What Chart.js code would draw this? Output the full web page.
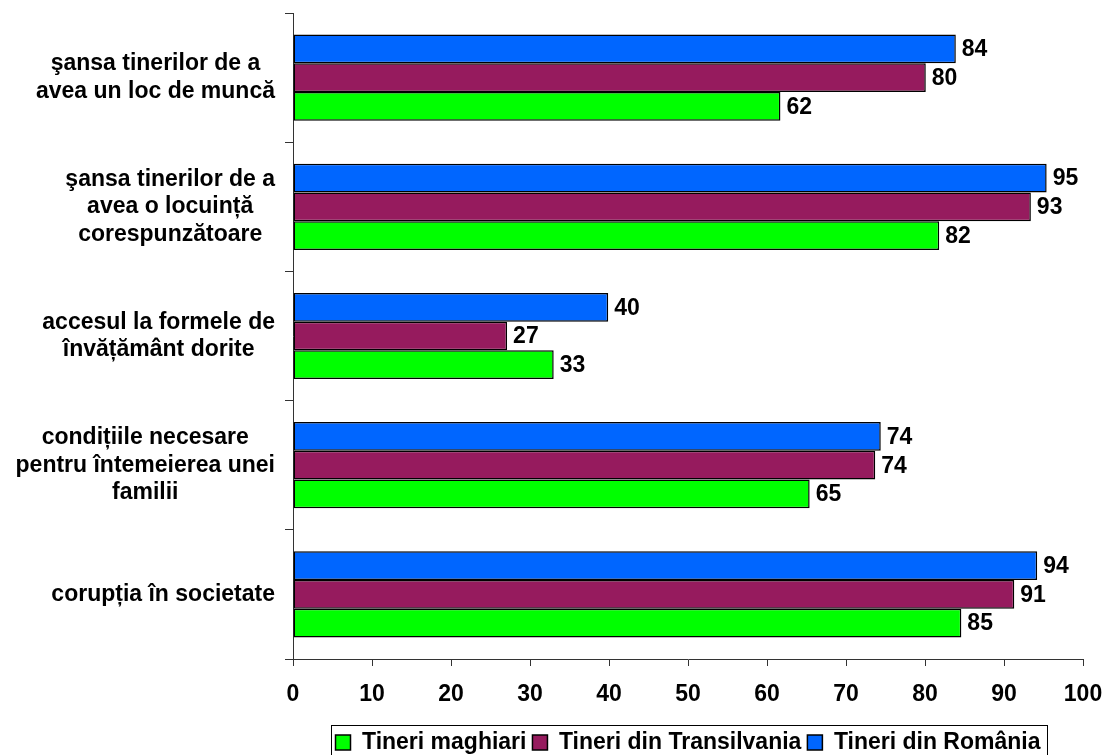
<!DOCTYPE html>
<html>
<head>
<meta charset="utf-8">
<script src="https://cdn.jsdelivr.net/npm/chart.js@4.4.1/dist/chart.umd.min.js"></script>
<style>
html,body{margin:0;padding:0;background:#fff;}
#wrap{width:1105px;height:755px;position:relative;}
</style>
</head>
<body>
<div id="wrap"><canvas id="c" width="1105" height="755"></canvas></div>
<script>
// ---- data ----
const categories = [
  ["şansa tinerilor de a", "avea un loc de muncă"],
  ["şansa tinerilor de a", "avea o locuință", "corespunzătoare"],
  ["accesul la formele de", "învățământ dorite"],
  ["condițiile necesare", "pentru întemeierea unei", "familii"],
  ["corupția în societate"]
];
const seriesNames = ["Tineri din România", "Tineri din Transilvania", "Tineri maghiari"];
const valuesRomania      = [83.9, 95.4, 39.9, 74.4, 94.2];
const valuesTransilvania = [80.1, 93.4, 27.1, 73.7, 91.3];
const valuesMaghiari     = [61.7, 81.8, 33.0, 65.4, 84.6];
const xTickValues = [0, 10, 20, 30, 40, 50, 60, 70, 80, 90, 100];

// ---- styles ----
const FONT = '"Liberation Sans", Arial, Helvetica, sans-serif';
const colors = ["#0066FF", "#961B5E", "#00FF00"];
Chart.defaults.font.family = FONT;
Chart.defaults.font.weight = 'bold';
Chart.defaults.color = '#000';

const valueLabels = {
  id: 'valueLabels',
  afterDatasetsDraw(chart) {
    const ctx = chart.ctx;
    ctx.save();
    ctx.font = 'bold 23px ' + FONT;
    ctx.fillStyle = '#000';
    ctx.textAlign = 'left';
    ctx.textBaseline = 'middle';
    chart.data.datasets.forEach((ds, i) => {
      chart.getDatasetMeta(i).data.forEach((el, j) => {
        ctx.fillText(String(Math.round(ds.data[j])), el.x + 6, el.y + 1);
      });
    });
    ctx.restore();
  }
};

// center each multi-line category label within its own block, block right-aligned
const labelAlign = {
  id: 'labelAlign',
  beforeDraw(chart) {
    const s = chart.scales.y;
    const items = s.getLabelItems(chart.chartArea);
    const ctx = chart.ctx;
    const xRight = s.right - s.options.grid.tickLength - s.options.ticks.padding;
    items.forEach(it => {
      ctx.save();
      ctx.font = it.font.string;
      const lines = Array.isArray(it.label) ? it.label : [it.label];
      const w = Math.max(...lines.map(l => ctx.measureText(l).width));
      ctx.restore();
      it.options.textAlign = 'center';
      it.options.translation = [xRight - w / 2, it.options.translation[1]];
    });
  }
};

const legendBorder = {
  id: 'legendBorder',
  afterDraw(chart) {
    const lg = chart.legend;
    if (!lg || !lg.legendHitBoxes || !lg.legendHitBoxes.length) return;
    const hb = lg.legendHitBoxes;
    const l = Math.min(...hb.map(h => h.left)) - 5;
    const r = Math.max(...hb.map(h => h.left + h.width)) + 6;
    const t = lg.top + 0.5;
    const ctx = chart.ctx;
    ctx.save();
    ctx.strokeStyle = '#000';
    ctx.lineWidth = 1;
    ctx.strokeRect(Math.round(l) + 0.5, t, Math.round(r - l), 60);
    ctx.restore();
  }
};

new Chart(document.getElementById('c'), {
  type: 'bar',
  data: {
    labels: categories,
    datasets: [
      { label: seriesNames[0], data: valuesRomania, backgroundColor: colors[0] },
      { label: seriesNames[1], data: valuesTransilvania, backgroundColor: colors[1] },
      { label: seriesNames[2], data: valuesMaghiari, backgroundColor: colors[2] }
    ].map(d => Object.assign(d, {
      borderColor: '#000', borderWidth: 1.5, borderSkipped: false,
      categoryPercentage: 0.667, barPercentage: 1.0
    }))
  },
  options: {
    indexAxis: 'y',
    responsive: false,
    animation: false,
    devicePixelRatio: 1,
    layout: { padding: { top: 13, right: 22, left: 0, bottom: 0 } },
    scales: {
      x: {
        min: 0, max: 100,
        afterBuildTicks(scale) { scale.ticks = xTickValues.map(v => ({ value: v })); },
        afterFit(scale) { scale.height = 66; scale.paddingLeft = 0; scale.paddingRight = 0; },
        grid: { drawOnChartArea: false, drawTicks: true, tickLength: 7, color: '#333', lineWidth: 1 },
        border: { display: true, color: '#333', width: 1 },
        ticks: { padding: 15, font: { size: 23, weight: 'bold' }, color: '#000', maxRotation: 0 }
      },
      y: {
        afterFit(scale) { scale.width = 293; scale.paddingTop = 0; scale.paddingBottom = 0; },
        grid: { drawOnChartArea: false, drawTicks: true, tickLength: 8, color: '#333', lineWidth: 1, offset: true },
        border: { display: true, color: '#333', width: 1 },
        ticks: { padding: 10, font: { size: 23, weight: 'bold', lineHeight: 1.2 }, color: '#000', autoSkip: false }
      }
    },
    plugins: {
      legend: {
        position: 'bottom',
        fullSize: false,
        align: 'center',
        reverse: true,
        maxHeight: 30,
        labels: { boxWidth: 15, boxHeight: 15, padding: 6, color: '#000', font: { size: 23, weight: 'bold' } }
      },
      tooltip: { enabled: false },
      title: { display: false }
    }
  },
  plugins: [valueLabels, labelAlign, legendBorder]
});
</script>
</body>
</html>
